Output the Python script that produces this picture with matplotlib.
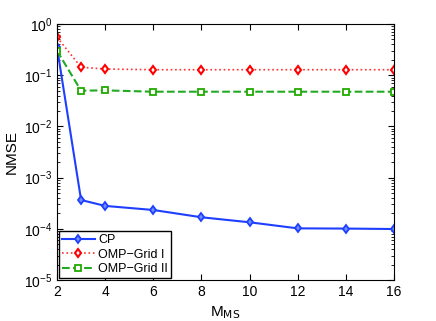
import matplotlib
matplotlib.use("Agg")
import matplotlib.pyplot as plt
import numpy as np

m_ms = [2, 3, 4, 6, 8, 10, 12, 14, 16]
cp = [3.5e-1, 3.65e-4, 2.8e-4, 2.33e-4, 1.68e-4, 1.34e-4, 1.02e-4, 1.01e-4, 9.9e-5]
omp_grid1 = [0.55, 0.143, 0.132, 0.128, 0.128, 0.128, 0.128, 0.128, 0.128]
omp_grid2 = [0.30, 0.0499, 0.0505, 0.0476, 0.0476, 0.0476, 0.0476, 0.0476, 0.0476]

plt.rcParams['font.family'] = ['Liberation Sans', 'DejaVu Sans']
fig = plt.figure(figsize=(4.36, 3.21), dpi=100)
ax = fig.add_axes([57/436, 41/321, 337/436, 256/321])

ax.semilogy(m_ms, cp, '-', color='#1f3fff', lw=1.5, marker='d', ms=4.5,
            mfc='#6f8fff', mec='#1f3fff', mew=1.3, label='CP')
ax.semilogy(m_ms, omp_grid1, ':', color='#ff3030', lw=1.2, marker='d', ms=4.5,
            mfc='white', mec='red', mew=1.5, label='OMP\u2212Grid I')
ax.semilogy(m_ms, omp_grid2, '--', color='#22aa22', lw=1.5, marker='s', ms=4,
            mfc='white', mec='#22aa00', mew=1.3, label='OMP\u2212Grid II')

ax.set_xlim(2, 16)
ax.set_ylim(1e-5, 1)
ax.set_xticks([2, 4, 6, 8, 10, 12, 14, 16])
ax.tick_params(which='both', direction='in', top=True, right=True, labelsize=10)
ax.tick_params(which='major', length=4)
ax.tick_params(which='minor', length=2)
ax.set_xlabel('M$_{\\mathrm{MS}}$', fontsize=11)
ax.set_ylabel('NMSE', fontsize=11)
ax.legend(loc='lower left', fancybox=False, edgecolor='black', framealpha=1,
          borderaxespad=0.15, handlelength=2.6, handletextpad=0.3, fontsize=9,
          borderpad=0.25, labelspacing=0.2)

fig.savefig('out.png', dpi=100)
